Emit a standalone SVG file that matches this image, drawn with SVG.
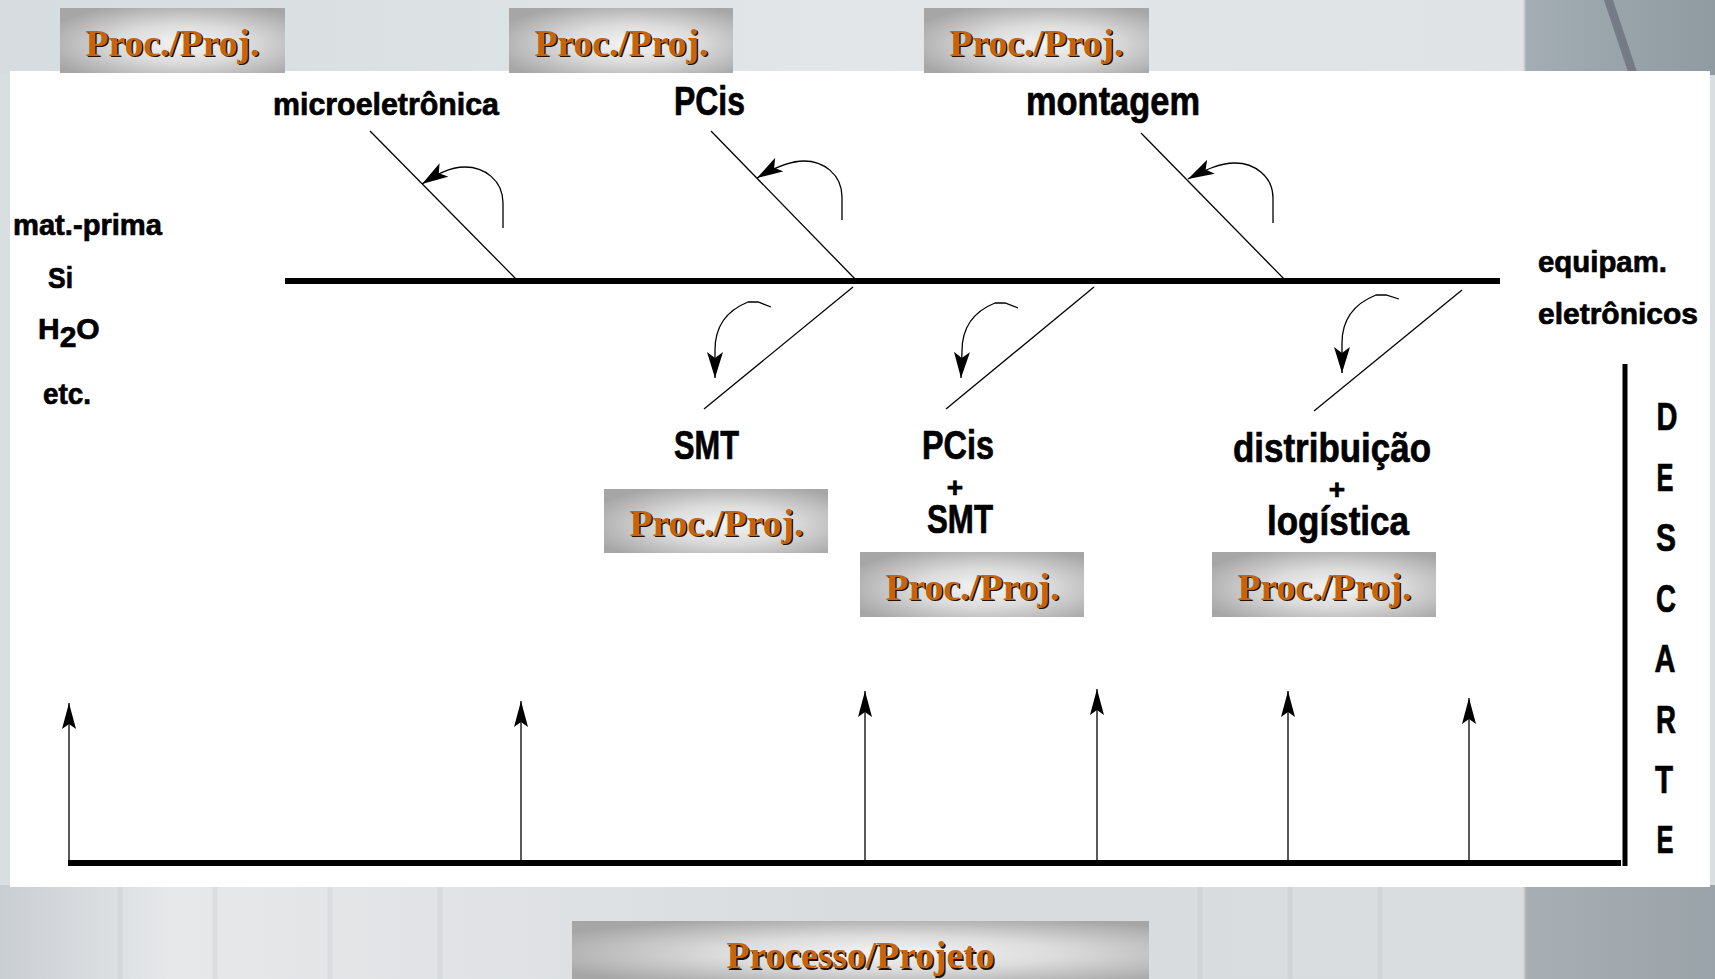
<svg xmlns="http://www.w3.org/2000/svg" width="1715" height="979" viewBox="0 0 1715 979">
<defs>
<radialGradient id="boxg" cx="55%" cy="55%" r="65%">
<stop offset="0" stop-color="#f4f4f4"/>
<stop offset="0.45" stop-color="#dcdcdc"/>
<stop offset="1" stop-color="#a6a6a6"/>
</radialGradient>
<linearGradient id="bgtop" x1="0" y1="0" x2="1" y2="0">
<stop offset="0" stop-color="#d6dcdf"/>
<stop offset="0.5" stop-color="#e2e6e8"/>
<stop offset="0.888" stop-color="#dfe3e5"/>
<stop offset="0.89" stop-color="#a3adb3"/>
<stop offset="1" stop-color="#8f9aa1"/>
</linearGradient>
<linearGradient id="bgbot" x1="0" y1="0" x2="1" y2="0">
<stop offset="0" stop-color="#c9ced2"/>
<stop offset="0.1" stop-color="#e6e8ea"/>
<stop offset="0.5" stop-color="#d9dcdf"/>
<stop offset="0.888" stop-color="#dadde0"/>
<stop offset="0.89" stop-color="#a8afb4"/>
<stop offset="1" stop-color="#9aa3a9"/>
</linearGradient>
<marker id="ah" markerUnits="userSpaceOnUse" markerWidth="28" markerHeight="14" refX="26" refY="7" orient="auto">
<path d="M0,0 L26,7 L0,14 L5,7 z" fill="#000"/>
</marker>
<marker id="ahc" markerUnits="userSpaceOnUse" markerWidth="28" markerHeight="18" refX="26" refY="8" orient="auto">
<path d="M0,0 L26,8 L0,16 L6,8 z" fill="#000"/>
</marker>
<style>
.lab{font-family:"Liberation Sans",Arial,sans-serif;font-weight:bold;fill:#000;stroke:#000;stroke-width:0.7}
.pp{font-family:"Liberation Serif","Times New Roman",serif;font-weight:bold;font-size:38px;fill:#c5640c}
.pps{font-family:"Liberation Serif","Times New Roman",serif;font-weight:bold;font-size:38px;fill:#1e1206}
.box{fill:url(#boxg)}
.thin{stroke:#000;stroke-width:1.3;fill:none}
.thick{stroke:#000;stroke-width:6;fill:none}
.curve{stroke:#000;stroke-width:1.3;fill:none;marker-end:url(#ahc)}
.up{stroke:#000;stroke-width:1.3;fill:none;marker-end:url(#ah)}
</style>
</defs>

<!-- background -->
<rect x="0" y="0" width="1715" height="979" fill="#d9dee1"/>
<rect x="0" y="0" width="1715" height="75" fill="url(#bgtop)"/>
<rect x="0" y="885" width="1715" height="94" fill="url(#bgbot)"/>
<path d="M1604,0 L1613,0 L1638,75 L1629,75 z" fill="#656a74" opacity="0.7"/>
<g opacity="0.12" stroke="#9aa0a5" stroke-width="5">
<line x1="120" y1="887" x2="120" y2="979"/>
<line x1="215" y1="887" x2="215" y2="979"/>
<line x1="330" y1="887" x2="330" y2="979"/>
<line x1="440" y1="887" x2="440" y2="979"/>
<line x1="1200" y1="887" x2="1200" y2="979"/>
<line x1="1290" y1="887" x2="1290" y2="979"/>
<line x1="1380" y1="887" x2="1380" y2="979"/>
</g>
<rect x="10" y="71" width="1700" height="816" fill="#fff"/>

<!-- spine and bones -->
<g id="connectors">
<line class="thick" x1="285" y1="281" x2="1500" y2="281"/>
<line class="thin" x1="370" y1="131" x2="518" y2="281"/>
<line class="thin" x1="711" y1="131" x2="857" y2="281"/>
<line class="thin" x1="1141" y1="133" x2="1286" y2="281"/>
<line class="thin" x1="853" y1="287" x2="704" y2="409"/>
<line class="thin" x1="1094" y1="287" x2="946" y2="409"/>
<line class="thin" x1="1462" y1="290" x2="1314" y2="411"/>
<path class="curve" d="M503,228 L503,203 C503,180 484,167 465,167 C449,167 436,175 422,184"/>
<path class="curve" d="M842,220 L842,197 C842,174 823,161 804,161 C788,161 772,169 757,178"/>
<path class="curve" d="M1273,223 L1273,198 C1273,176 1254,163 1235,163 C1219,163 1203,171 1188,179"/>
<path class="curve" d="M771,307 L758,302 L748,302 C728,310 715,325 715,350 L715,378"/>
<path class="curve" d="M1018,308 L1005,303 L995,303 C975,311 962,326 962,351 L961,378"/>
<path class="curve" d="M1399,299 L1386,295 L1376,295 C1356,303 1342,318 1342,343 L1342,373"/>
<line class="thick" x1="68" y1="863" x2="1621" y2="863"/>
<line x1="1625" y1="364" x2="1625" y2="866" stroke="#000" stroke-width="5"/>
<line class="up" x1="69" y1="860" x2="69" y2="703"/>
<line class="up" x1="521" y1="860" x2="521" y2="701"/>
<line class="up" x1="865" y1="860" x2="865" y2="691"/>
<line class="up" x1="1097" y1="860" x2="1097" y2="689"/>
<line class="up" x1="1288" y1="860" x2="1288" y2="691"/>
<line class="up" x1="1469" y1="860" x2="1469" y2="698"/>
</g>

<!-- Proc./Proj. boxes -->
<g id="pp1"><rect class="box" x="60" y="8" width="225" height="65"/>
<text class="pps" x="174" y="57" text-anchor="middle" textLength="174" lengthAdjust="spacingAndGlyphs">Proc./Proj.</text>
<text class="pp" x="172.5" y="55.5" text-anchor="middle" textLength="174" lengthAdjust="spacingAndGlyphs">Proc./Proj.</text></g>
<g id="pp2"><rect class="box" x="509" y="8" width="224" height="65"/>
<text class="pps" x="623" y="57" text-anchor="middle" textLength="174" lengthAdjust="spacingAndGlyphs">Proc./Proj.</text>
<text class="pp" x="621.5" y="55.5" text-anchor="middle" textLength="174" lengthAdjust="spacingAndGlyphs">Proc./Proj.</text></g>
<g id="pp3"><rect class="box" x="924" y="8" width="225" height="65"/>
<text class="pps" x="1038" y="57" text-anchor="middle" textLength="174" lengthAdjust="spacingAndGlyphs">Proc./Proj.</text>
<text class="pp" x="1036.5" y="55.5" text-anchor="middle" textLength="174" lengthAdjust="spacingAndGlyphs">Proc./Proj.</text></g>
<g id="pp4"><rect class="box" x="604" y="489" width="224" height="64"/>
<text class="pps" x="718" y="537" text-anchor="middle" textLength="174" lengthAdjust="spacingAndGlyphs">Proc./Proj.</text>
<text class="pp" x="716.5" y="535.5" text-anchor="middle" textLength="174" lengthAdjust="spacingAndGlyphs">Proc./Proj.</text></g>
<g id="pp5"><rect class="box" x="860" y="552" width="224" height="65"/>
<text class="pps" x="974" y="601" text-anchor="middle" textLength="174" lengthAdjust="spacingAndGlyphs">Proc./Proj.</text>
<text class="pp" x="972.5" y="599.5" text-anchor="middle" textLength="174" lengthAdjust="spacingAndGlyphs">Proc./Proj.</text></g>
<g id="pp6"><rect class="box" x="1212" y="552" width="224" height="65"/>
<text class="pps" x="1326" y="601" text-anchor="middle" textLength="174" lengthAdjust="spacingAndGlyphs">Proc./Proj.</text>
<text class="pp" x="1324.5" y="599.5" text-anchor="middle" textLength="174" lengthAdjust="spacingAndGlyphs">Proc./Proj.</text></g>
<g id="pp-bottom"><rect class="box" x="572" y="921" width="577" height="58"/>
<text class="pps" x="862" y="969.5" text-anchor="middle" textLength="268" lengthAdjust="spacingAndGlyphs">Processo/Projeto</text>
<text class="pp" x="860.5" y="968" text-anchor="middle" textLength="268" lengthAdjust="spacingAndGlyphs">Processo/Projeto</text></g>

<!-- labels -->
<g id="n-micro"><text class="lab" x="273" y="115" font-size="31" textLength="226" lengthAdjust="spacingAndGlyphs">microeletrônica</text></g>
<g id="n-pcis"><text class="lab" x="674" y="115" font-size="40" textLength="71" lengthAdjust="spacingAndGlyphs">PCis</text></g>
<g id="n-montagem"><text class="lab" x="1026" y="115" font-size="40" textLength="174" lengthAdjust="spacingAndGlyphs">montagem</text></g>
<g id="n-materia">
<text class="lab" x="13" y="235" font-size="30" textLength="149" lengthAdjust="spacingAndGlyphs">mat.-prima</text>
<text class="lab" x="48" y="288" font-size="30" textLength="25" lengthAdjust="spacingAndGlyphs">Si</text>
<text class="lab" x="38" y="339" font-size="30">H<tspan dy="8">2</tspan><tspan dy="-8">O</tspan></text>
<text class="lab" x="43" y="404" font-size="30" textLength="48" lengthAdjust="spacingAndGlyphs">etc.</text>
</g>
<g id="n-equip">
<text class="lab" x="1538" y="272" font-size="30" textLength="129" lengthAdjust="spacingAndGlyphs">equipam.</text>
<text class="lab" x="1538" y="324" font-size="30" textLength="160" lengthAdjust="spacingAndGlyphs">eletrônicos</text>
</g>
<g id="n-smt"><text class="lab" x="674" y="459" font-size="40" textLength="65" lengthAdjust="spacingAndGlyphs">SMT</text></g>
<g id="n-pcis-smt">
<text class="lab" x="922" y="459" font-size="40" textLength="72" lengthAdjust="spacingAndGlyphs">PCis</text>
<text class="lab" x="955" y="497" font-size="28" text-anchor="middle">+</text>
<text class="lab" x="927" y="533" font-size="40" textLength="66" lengthAdjust="spacingAndGlyphs">SMT</text>
</g>
<g id="n-distrib">
<text class="lab" x="1233" y="462" font-size="40" textLength="198" lengthAdjust="spacingAndGlyphs">distribuição</text>
<text class="lab" x="1337" y="499" font-size="28" text-anchor="middle">+</text>
<text class="lab" x="1267" y="535" font-size="40" textLength="142" lengthAdjust="spacingAndGlyphs">logística</text>
</g>
<g id="n-descarte" font-size="39">
<text class="lab" x="1667" y="430" text-anchor="middle" textLength="21" lengthAdjust="spacingAndGlyphs">D</text>
<text class="lab" x="1665" y="491" text-anchor="middle" textLength="17" lengthAdjust="spacingAndGlyphs">E</text>
<text class="lab" x="1666" y="551" text-anchor="middle" textLength="20" lengthAdjust="spacingAndGlyphs">S</text>
<text class="lab" x="1666" y="612" text-anchor="middle" textLength="20" lengthAdjust="spacingAndGlyphs">C</text>
<text class="lab" x="1665" y="672" text-anchor="middle" textLength="21" lengthAdjust="spacingAndGlyphs">A</text>
<text class="lab" x="1666" y="733" text-anchor="middle" textLength="20" lengthAdjust="spacingAndGlyphs">R</text>
<text class="lab" x="1664" y="793" text-anchor="middle" textLength="18" lengthAdjust="spacingAndGlyphs">T</text>
<text class="lab" x="1665" y="853" text-anchor="middle" textLength="17" lengthAdjust="spacingAndGlyphs">E</text>
</g>
</svg>
